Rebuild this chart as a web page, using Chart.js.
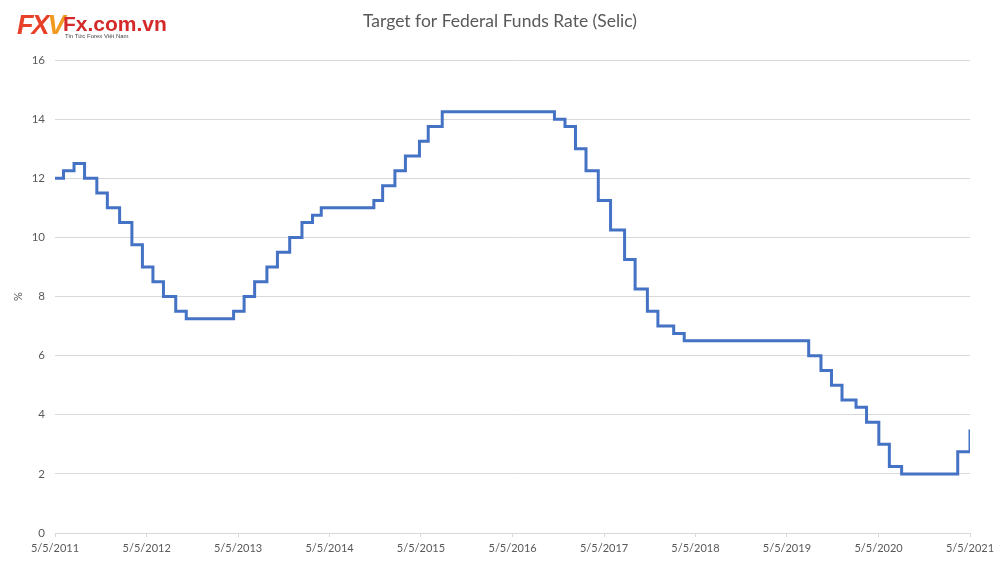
<!DOCTYPE html>
<html>
<head>
<meta charset="utf-8">
<script src="https://cdn.jsdelivr.net/npm/chart.js@4"></script>
<style>
  html, body { margin: 0; padding: 0; background: #fff; }
  #wrap { position: relative; width: 1000px; height: 563px; }
  #logo { position: absolute; left: 17px; top: 11px; font-family: "Liberation Sans", Arial, sans-serif; }
  #logo .fxv { position: absolute; left: 0; top: -1px; font-size: 27px; font-weight: bold; font-style: italic; color: #e8412a; letter-spacing: -2px; white-space: nowrap; }
  #logo .fxv span { color: #f29a1f; }
  #logo .site { position: absolute; left: 46px; top: 1px; font-size: 21px; font-weight: bold; color: #d42a2a; white-space: nowrap; }
  #logo .tag { position: absolute; left: 48px; top: 22px; font-size: 6px; color: #444; white-space: nowrap; }
</style>
</head>
<body>
<div id="wrap">
  <canvas id="selicChart" width="1000" height="563"></canvas>
  <div id="logo">
    <div class="fxv">FX<span>V</span></div>
    <div class="site">Fx.com.vn</div>
    <div class="tag">Tin Tức Forex Việt Nam</div>
  </div>
</div>
<script>
// rate decision dates and the new target rate from that date
const changeDates = [
  '2011-05-05', '2011-06-08', '2011-07-20', '2011-08-31', '2011-10-19', '2011-11-30',
  '2012-01-18', '2012-03-07', '2012-04-18', '2012-05-30', '2012-07-11', '2012-08-29', '2012-10-10',
  '2013-04-17', '2013-05-29', '2013-07-10', '2013-08-28', '2013-10-09', '2013-11-27',
  '2014-01-15', '2014-02-26', '2014-04-02', '2014-10-29', '2014-12-03',
  '2015-01-21', '2015-03-04', '2015-04-29', '2015-06-03', '2015-07-29',
  '2016-10-19', '2016-11-30',
  '2017-01-11', '2017-02-22', '2017-04-12', '2017-05-31', '2017-07-26', '2017-09-06', '2017-10-25', '2017-12-06',
  '2018-02-07', '2018-03-21',
  '2019-07-31', '2019-09-18', '2019-10-30', '2019-12-11',
  '2020-02-05', '2020-03-18', '2020-05-06', '2020-06-17', '2020-08-05',
  '2021-03-17', '2021-05-05'
];
const selicRates = [
  12.00, 12.25, 12.50, 12.00, 11.50, 11.00,
  10.50, 9.75, 9.00, 8.50, 8.00, 7.50, 7.25,
  7.50, 8.00, 8.50, 9.00, 9.50, 10.00,
  10.50, 10.75, 11.00, 11.25, 11.75,
  12.25, 12.75, 13.25, 13.75, 14.25,
  14.00, 13.75,
  13.00, 12.25, 11.25, 10.25, 9.25, 8.25, 7.50, 7.00,
  6.75, 6.50,
  6.00, 5.50, 5.00, 4.50,
  4.25, 3.75, 3.00, 2.25, 2.00,
  2.75, 3.50
];
const tickDates = [
  '2011-05-05', '2012-05-05', '2013-05-05', '2014-05-05', '2015-05-05', '2016-05-05',
  '2017-05-05', '2018-05-05', '2019-05-05', '2020-05-05', '2021-05-05'
];
const tickLabels = [
  '5/5/2011', '5/5/2012', '5/5/2013', '5/5/2014', '5/5/2015', '5/5/2016',
  '5/5/2017', '5/5/2018', '5/5/2019', '5/5/2020', '5/5/2021'
];
const yTicks = [0, 2, 4, 6, 8, 10, 12, 14, 16];

const toMs = d => Date.parse(d + 'T00:00:00Z');
const tickMs = tickDates.map(toMs);
const points = changeDates.map((d, i) => ({ x: toMs(d), y: selicRates[i] }));

const FONT = 'Lato, "Open Sans", sans-serif';
const GREY = '#595959';

new Chart(document.getElementById('selicChart'), {
  type: 'line',
  data: {
    datasets: [{
      label: 'Selic',
      data: points,
      stepped: true,
      borderColor: '#4472c4',
      borderWidth: 3,
      pointRadius: 0,
      fill: false
    }]
  },
  options: {
    responsive: false,
    animation: false,
    layout: { padding: 0 },
    plugins: {
      legend: { display: false },
      tooltip: { enabled: false },
      title: {
        display: true,
        text: 'Target for Federal Funds Rate (Selic)',
        color: GREY,
        font: { family: FONT, size: 17.5, weight: 'normal' },
        padding: { top: 11, bottom: 28 }
      }
    },
    scales: {
      x: {
        type: 'linear',
        min: tickMs[0],
        max: tickMs[tickMs.length - 1],
        afterBuildTicks: s => { s.ticks = tickMs.map(v => ({ value: v })); },
        // keep room on the right for the last date label
        afterFit: s => { s.height = 30; s.paddingRight = 30; },
        ticks: {
          color: GREY,
          font: { family: FONT, size: 11 },
          padding: 5,
          maxRotation: 0,
          autoSkip: false,
          callback: (v) => tickLabels[tickMs.indexOf(v)]
        },
        grid: { drawOnChartArea: false, drawTicks: true, tickLength: 4, color: '#d9d9d9' },
        border: { display: true, color: '#d9d9d9' }
      },
      y: {
        min: 0,
        max: 16,
        afterBuildTicks: s => { s.ticks = yTicks.map(v => ({ value: v })); },
        afterFit: s => { s.width = 55; },
        title: {
          display: true,
          text: '%',
          color: GREY,
          font: { family: FONT, size: 11 },
          padding: { top: 12, bottom: 0 }
        },
        ticks: {
          color: GREY,
          font: { family: FONT, size: 11.5 },
          padding: 10
        },
        grid: { color: '#d9d9d9', drawTicks: false, lineWidth: 1 },
        border: { display: false }
      }
    }
  }
});
</script>
</body>
</html>
